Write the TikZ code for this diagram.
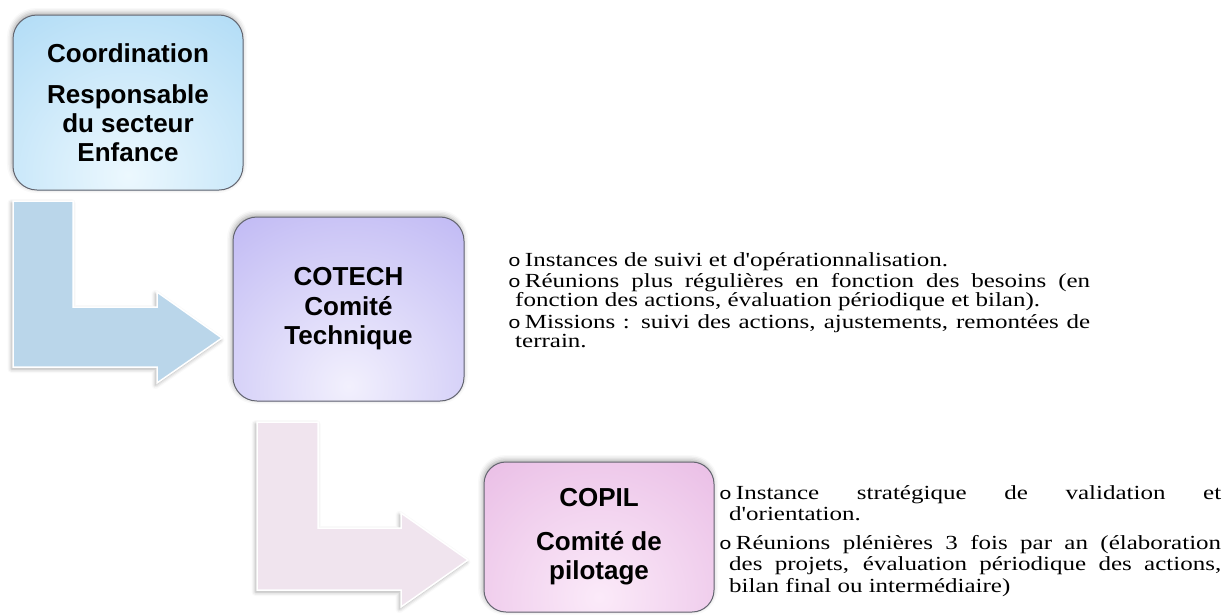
\documentclass[tikz,border=0pt]{standalone}
\usepackage{fontspec}
\setmainfont{Liberation Serif}
\newfontfamily\boxfont{Liberation Sans}
\newfontfamily\notefont[FakeStretch=1.25,Ligatures=TeXOff]{Liberation Serif}
\newfontfamily\bulletfont[FakeStretch=1.25]{Liberation Mono}
\usetikzlibrary{shadows.blur}

\definecolor{coordDark}{RGB}{135,200,240}
\definecolor{coordLight}{RGB}{236,248,254}
\definecolor{cotechDark}{RGB}{160,150,238}
\definecolor{cotechLight}{RGB}{242,240,253}
\definecolor{copilDark}{RGB}{218,150,212}
\definecolor{copilLight}{RGB}{251,234,249}
\definecolor{boxBorder}{RGB}{100,102,112}
\definecolor{arrowBlue}{RGB}{186,214,234}
\definecolor{arrowPink}{RGB}{240,228,238}

\newcommand{\bull}{{\bulletfont\fontsize{17pt}{17pt}\selectfont o}\hspace{4pt}}

\tikzset{
  levelbox/.style={draw=boxBorder, line width=1pt, rounded corners=24pt,
    align=center, inner sep=0pt,
    font={\boxfont\bfseries\fontsize{26pt}{29pt}\selectfont},
    blur shadow={shadow xshift=-1pt, shadow yshift=2pt, shadow blur radius=5pt, shadow opacity=35}},
  glow/.style 2 args={fill=#1,
    path picture={\fill[inner color=#2, outer color=#1]
      ([yshift=15pt]path picture bounding box.south) circle (340pt);}},
  notes/.style={align=justify, inner sep=0pt, anchor=base west,
    font={\notefont\fontsize{20pt}{19pt}\selectfont}},
  bentarrow/.style={draw=white, line width=1.5pt, line join=miter,
    blur shadow={shadow xshift=-1.5pt, shadow yshift=-2pt, shadow blur radius=4pt, shadow opacity=35}}
}

\begin{document}
\begin{tikzpicture}[x=1pt, y=-1pt]
\useasboundingbox (0,0) rectangle (1223,614);

% Bent arrows between the levels
\path[bentarrow, fill=arrowBlue] (13,201) -- (73,201) -- (73,307) -- (157,307) -- (157,292)
  -- (222,338) -- (157,383) -- (157,367) -- (13,367) -- cycle;
\path[bentarrow, fill=arrowPink] (257,422) -- (318,422) -- (318,528) -- (401,528) -- (401,513)
  -- (468,560) -- (401,607) -- (401,590) -- (257,590) -- cycle;

% Level boxes
\node[levelbox, glow={coordDark}{coordLight}, minimum width=230pt, minimum height=175pt] (coord) at (128,102.5)
  {Coordination\\[12pt]Responsable\\du secteur\\Enfance};
\node[levelbox, glow={cotechDark}{cotechLight}, minimum width=231pt, minimum height=184pt] (cotech) at (348.5,309)
  {COTECH\\[1pt]Comité\\Technique};
\node[levelbox, glow={copilDark}{copilLight}, minimum width=230pt, minimum height=150pt, rounded corners=22pt] (copil) at (599,537)
  {COPIL\\[15pt]Comité de\\pilotage};

% Notes beside COTECH
\node[notes, text width=582pt] (cotechnotes) at (508,266) {\parindent=0pt\parskip=2.7pt\tolerance=10000
  \hangindent=7pt\hangafter=1 \bull Instances de suivi et d'opérationnalisation.\par
  \hangindent=7pt\hangafter=1 \bull Réunions plus régulières en fonction des besoins (en\linebreak fonction des actions, évaluation périodique et bilan).\par
  \hangindent=7pt\hangafter=1 \bull Missions : suivi des actions, ajustements, remontées de\linebreak terrain.\par};

% Notes beside COPIL
\node[notes, text width=502pt, font={\notefont\fontsize{20pt}{21.5pt}\selectfont}] (copilnotes) at (719,499) {\parindent=0pt\parskip=7pt\tolerance=10000
  \hangindent=10pt\hangafter=1 \bull Instance stratégique de validation et\linebreak d'orientation.\par
  \hangindent=10pt\hangafter=1 \bull Réunions plénières 3 fois par an (élaboration\linebreak des projets, évaluation périodique des actions,\linebreak bilan final ou intermédiaire)\par};

\end{tikzpicture}
\end{document}
